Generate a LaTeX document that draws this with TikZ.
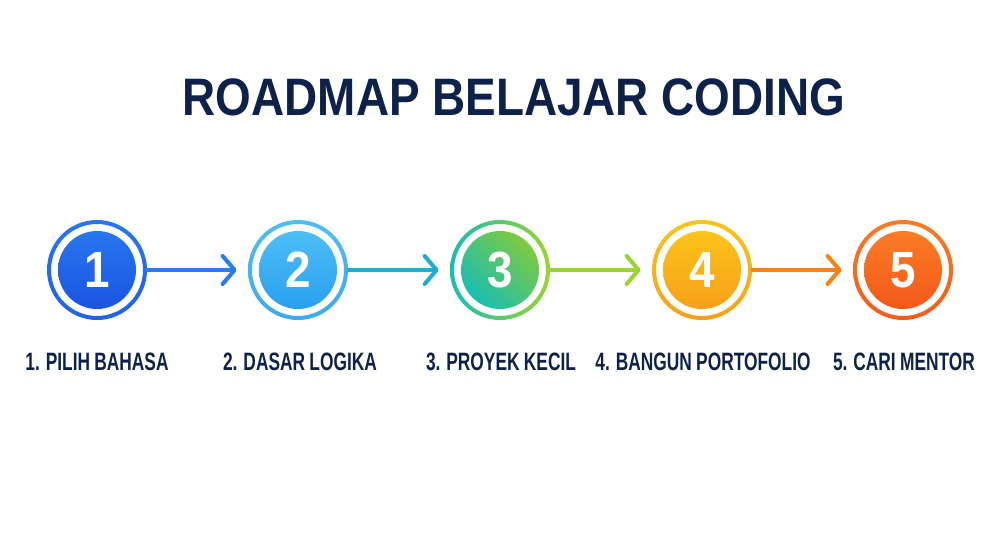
\documentclass[tikz,border=0pt]{standalone}
\usepackage{fontspec}
\setmainfont{Liberation Sans}
\newfontfamily\titlefont[FakeStretch=0.87]{Liberation Sans}
\newfontfamily\labelfont[FakeStretch=0.69, WordSpace=0.9]{Liberation Sans}
\newfontfamily\digitfont[FakeStretch=0.9]{Liberation Sans}
\usetikzlibrary{arrows.meta}
\definecolor{navy}{RGB}{14, 33, 72}
\definecolor{blueA}{RGB}{40, 118, 240}
\definecolor{blueB}{RGB}{26, 84, 226}
\definecolor{skyA}{RGB}{78, 190, 246}
\definecolor{skyB}{RGB}{40, 160, 238}
\definecolor{tealA}{RGB}{24, 190, 178}
\definecolor{limeA}{RGB}{128, 202, 62}
\definecolor{sunA}{RGB}{252, 196, 26}
\definecolor{sunB}{RGB}{248, 160, 24}
\definecolor{flameA}{RGB}{250, 124, 36}
\definecolor{flameB}{RGB}{244, 88, 26}
\tikzset{
  stepdisk/.style={circle, minimum size=1.56cm, inner sep=0pt, text=white,
    font=\digitfont\bfseries\fontsize{29}{29}\selectfont},
  steplabel/.style={text=navy, font=\labelfont\bfseries\fontsize{14.3}{14.3}\selectfont},
  steparrow/.style={line width=2.3pt, line cap=round,
    -{Straight Barb[length=0.24cm, width=0.56cm, round]},
    shorten <=0.22cm, shorten >=0.44cm},
}
\begin{document}
\begin{tikzpicture}[x=0.02cm, y=-0.02cm]
            % Frame
            \fill[white] (0,0) rectangle (1000,554);
            \useasboundingbox (0,0) rectangle (1000,554);
            % Title
            \node[text=navy, font=\titlefont\bfseries\fontsize{30}{30}\selectfont] (title) at (514, 97) {ROADMAP BELAJAR CODING};
            % Steps
            \node[stepdisk, top color=blueA,  bottom color=blueB]                     (s1) at ( 97, 270) {1};
            \node[stepdisk, top color=skyA,   bottom color=skyB]                      (s2) at (298, 270) {2};
            \node[stepdisk, top color=limeA,  bottom color=tealA, shading angle=-45]  (s3) at (500, 270) {3};
            \node[stepdisk, top color=sunA,   bottom color=sunB]                      (s4) at (702, 270) {4};
            \node[stepdisk, top color=flameA, bottom color=flameB]                    (s5) at (903, 270) {5};
            % Rings
            \path[top color=blueA,     bottom color=blueB!60!blueA, even odd rule]          (s1.center) circle (50) circle (46);
            \path[top color=skyA,      bottom color=skyB!90, even odd rule]                 (s2.center) circle (50) circle (46);
            \path[left color=tealA,    right color=limeA!80!yellow, even odd rule]          (s3.center) circle (50) circle (46);
            \path[top color=sunA,      bottom color=sunB, even odd rule]                    (s4.center) circle (50) circle (46);
            \path[top color=flameA,    bottom color=flameB!90!flameA, even odd rule]        (s5.center) circle (50) circle (46);
            % Arrows
            \draw[steparrow, color=blueA!85!skyB]        (s1) -- (s2);
            \draw[steparrow, color=skyB!55!tealA]        (s2) -- (s3);
            \draw[steparrow, color=limeA!80!yellow]      (s3) -- (s4);
            \draw[steparrow, color=sunB!60!flameB]       (s4) -- (s5);
            % Labels
            \node[steplabel] (l1) at ( 97, 362) {1. PILIH BAHASA};
            \node[steplabel] (l2) at (300, 362) {2. DASAR LOGIKA};
            \node[steplabel] (l3) at (501, 362) {3. PROYEK KECIL};
            \node[steplabel] (l4) at (703, 362) {4. BANGUN PORTOFOLIO};
            \node[steplabel] (l5) at (904, 362) {5. CARI MENTOR};
\end{tikzpicture}
\end{document}
